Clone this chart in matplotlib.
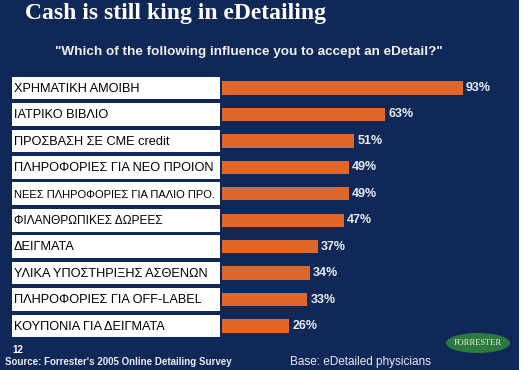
import matplotlib.pyplot as plt
from matplotlib.patches import Ellipse, Rectangle

categories = ['ΧΡΗΜΑΤΙΚΗ ΑΜΟΙΒΗ', 'ΙΑΤΡΙΚΟ ΒΙΒΛΙΟ', 'ΠΡΟΣΒΑΣΗ ΣΕ CME credit',
              'ΠΛΗΡΟΦΟΡΙΕΣ ΓΙΑ ΝΕΟ ΠΡΟΙΟΝ', 'ΝΕΕΣ ΠΛΗΡΟΦΟΡΙΕΣ ΓΙΑ ΠΑΛΙΟ ΠΡΟ.',
              'ΦΙΛΑΝΘΡΩΠΙΚΕΣ ΔΩΡΕΕΣ', 'ΔΕΙΓΜΑΤΑ', 'ΥΛΙΚΑ ΥΠΟΣΤΗΡΙΞΗΣ ΑΣΘΕΝΩΝ',
              'ΠΛΗΡΟΦΟΡΙΕΣ ΓΙΑ OFF-LABEL', 'ΚΟΥΠΟΝΙΑ ΓΙΑ ΔΕΙΓΜΑΤΑ']
values = [93, 63, 51, 49, 49, 47, 37, 34, 33, 26]
label_sizes = [9.2, 9.2, 9.2, 9.2, 8, 8.6, 9.2, 9.2, 9.2, 9.2]

BG = '#0f2858'
W, H = 523, 370
fig = plt.figure(figsize=(W / 100, H / 100), dpi=100)
fig.patch.set_facecolor(BG)

# white strip on the right edge
fig.add_artist(Rectangle((519 / W, 0), 4 / W, 1, transform=fig.transFigure,
                         facecolor='white', edgecolor='none'))

ypos = list(range(len(categories)))
ax_bottom = 30.8 / H
ax_height = 264.4 / H

# label boxes
axl = fig.add_axes([12 / W, ax_bottom, 208 / W, ax_height])
axl.set_facecolor('#1d3390')
axl.barh(ypos, [1] * len(ypos), height=0.86, color='white', left=0)
axl.set_xlim(0, 1)
axl.set_ylim(len(ypos) - 0.5, -0.5)
for y, lab, fs in zip(ypos, categories, label_sizes):
    axl.text(0.01, y + 0.03, lab, va='center', ha='left', fontsize=fs,
             family='Liberation Sans', color='black')
axl.axis('off')

# bars
ax = fig.add_axes([222 / W, ax_bottom, 290 / W, ax_height])
ax.set_facecolor(BG)
ax.barh(ypos, values, height=0.5, color='#e0672a')
ax.set_xlim(0, 290 / 2.59)
ax.set_ylim(len(ypos) - 0.5, -0.5)
for y, v in zip(ypos, values):
    ax.text(v + 1.2, y, f'{v}%', va='center', ha='left', fontsize=9,
            fontweight='bold', color='#e8ecf5', family='Liberation Sans')
ax.axis('off')

fig.text(25 / W, 1 - 14 / H, 'Cash is still king in eDetailing', fontsize=17,
         fontweight='bold', family='Liberation Serif', color='white', va='center')
fig.text(55 / W, 1 - 52 / H, '"Which of the following influence you to accept an eDetail?"',
         fontsize=9.7, fontweight='bold', family='Liberation Sans', color='#f0f0f0',
         va='center')
fig.text(12 / W, 1 - 350 / H, '12', fontsize=7, fontweight='bold',
         family='Liberation Sans', color='white', va='center')
fig.text(5 / W, 1 - 362 / H, "Source: Forrester's 2005 Online Detailing Survey",
         fontsize=7, fontweight='bold', family='Liberation Sans', color='#e8ecf5',
         va='center')
fig.text(290 / W, 1 - 362 / H, 'Base: eDetailed physicians', fontsize=8.5,
         family='Liberation Sans', color='#e8ecf5', va='center')

fig.add_artist(Ellipse((478 / W, 1 - 343 / H), 64 / W, 20 / H,
                       transform=fig.transFigure, facecolor='#2e7a3e',
                       edgecolor='none'))
fig.text(478 / W, 1 - 343 / H, 'FORRESTER', fontsize=6, family='Liberation Serif',
         color='#e6efe0', ha='center', va='center')

fig.savefig('out.png', dpi=100, facecolor=fig.get_facecolor())
